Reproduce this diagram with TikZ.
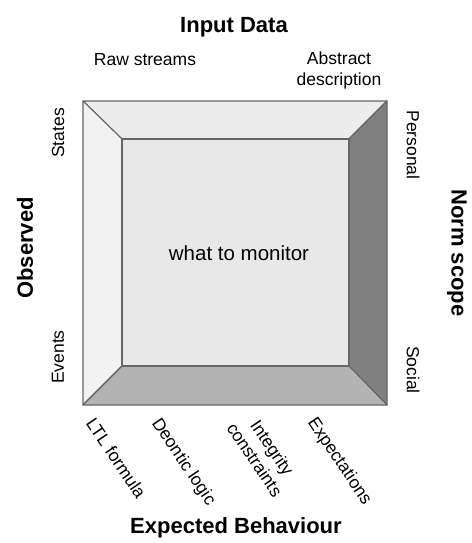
\documentclass[tikz,border=0pt]{standalone}
\usepackage{fontspec}
\setmainfont{Liberation Sans}
\usetikzlibrary{positioning}
\usetikzlibrary{calc}
\definecolor{edgegray}{RGB}{102,102,102}
\definecolor{facetop}{RGB}{236,236,236}
\definecolor{faceleft}{RGB}{242,242,242}
\definecolor{faceright}{RGB}{128,128,128}
\definecolor{facebottom}{RGB}{179,179,179}
\definecolor{facemid}{RGB}{232,232,232}
\tikzset{
    face/.style={draw=edgegray, line width=1.1pt, line join=round},
    tag/.style={font=\fontsize{17.5}{21}\selectfont, inner sep=0pt, align=center},
    axis/.style={font=\bfseries\fontsize{22}{26}\selectfont, inner sep=0pt},
    slant/.style={tag, rotate=-56, anchor=north west},
    side/.style={tag, rotate=90},
    otherside/.style={tag, rotate=-90},
}

\begin{document}
\begin{tikzpicture}[x=1pt, y=-1pt]
    \useasboundingbox (0,0) rectangle (471,543);
    % corners of the frame
    \coordinate (onw) at (83,101);
    \coordinate (one) at (387,101);
    \coordinate (ose) at (387,405);
    \coordinate (osw) at (83,405);
    \coordinate (inw) at (122,139);
    \coordinate (ine) at (349,139);
    \coordinate (ise) at (349,366);
    \coordinate (isw) at (122,366);
    % bevelled faces
    \path[face, fill=facetop] (onw) -- (one) -- (ine) -- (inw) -- cycle;
    \path[face, fill=faceleft] (onw) -- (inw) -- (isw) -- (osw) -- cycle;
    \path[face, fill=faceright] (one) -- (ose) -- (ise) -- (ine) -- cycle;
    \path[face, fill=facebottom] (osw) -- (isw) -- (ise) -- (ose) -- cycle;
    \path[face, fill=facemid] (inw) rectangle (ise);
    \node[font=\fontsize{20.5}{24}\selectfont] (monitor) at (239,253) {what to monitor};
    % top
    \node[axis] (input) at (234,27) {Input Data};
    \node[tag] (raw) at (145,60) {Raw streams};
    \node[tag] (abstract) at (339,70) {Abstract\\description};
    % left
    \node[axis, rotate=90] (observed) at (25,248) {Observed};
    \node[side] (states) at (58,133) {States};
    \node[side] (events) at (58,357) {Events};
    % right
    \node[axis, rotate=-90] (scope) at (457,253) {Norm scope};
    \node[otherside] (personal) at (413,145) {Personal};
    \node[otherside] (social) at (413,370) {Social};
    % bottom
    \node[slant] (ltl) at (96,416) {LTL formula};
    \node[slant] (deontic) at (162,416) {Deontic logic};
    \node[slant] (integrity) at (254,409) {Integrity\\constraints};
    \node[slant] (expect) at (318,415) {Expectations};
    \node[axis] (expected) at (236,528) {Expected Behaviour};
\end{tikzpicture}
\end{document}
